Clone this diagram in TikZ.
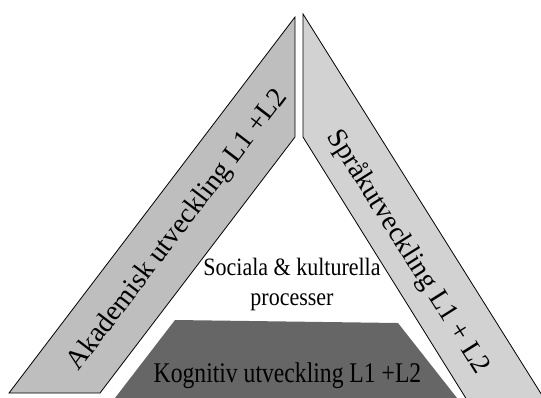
\documentclass[tikz,border=0pt]{standalone}
\usepackage{fontspec}
\setmainfont{Liberation Serif}
\newfontfamily\condA[FakeStretch=0.88]{Liberation Serif}
\newfontfamily\condB[FakeStretch=0.83]{Liberation Serif}
\definecolor{bandL}{RGB}{190,190,190}
\definecolor{bandR}{RGB}{210,210,210}
\definecolor{darkbox}{RGB}{102,102,102}
\tikzset{
  band/.style={draw=black, line width=0.8pt, line join=miter},
  rottext/.style={inner sep=0pt, font=\fontsize{28}{32}\selectfont},
}
\begin{document}
\begin{tikzpicture}[x=1pt,y=-1pt]
\useasboundingbox (0,0) rectangle (541,397);
\begin{scope}
\clip (0,0) rectangle (541,397);
% left band
\path[band, fill=bandL] (295,17) -- (295,137) -- (100,393) -- (9,393) -- cycle;
% right band
\path[band, fill=bandR] (303,14) -- (303,137) -- (467,400) -- (545,400) -- cycle;
% bottom trapezoid
\path[fill=darkbox] (175,320) -- (398,323) -- (457,398) -- (115,398) -- cycle;
\end{scope}
\node[rottext, rotate=52.7] (akad) at (178,230) {Akademisk utveckling L1 +L2};
\node[rottext, rotate=-57.8] (sprak) at (408,252) {Språkutveckling L1 + L2};
\node[inner sep=0pt, align=center, font=\condA\fontsize{25}{30}\selectfont] (soc) at (292,284) {Sociala \& kulturella\\processer};
\node[inner sep=0pt, anchor=base, font=\condB\fontsize{28.5}{32}\selectfont] (kog) at (287.5,382.7) {Kognitiv utveckling L1 +L2};
\end{tikzpicture}
\end{document}
